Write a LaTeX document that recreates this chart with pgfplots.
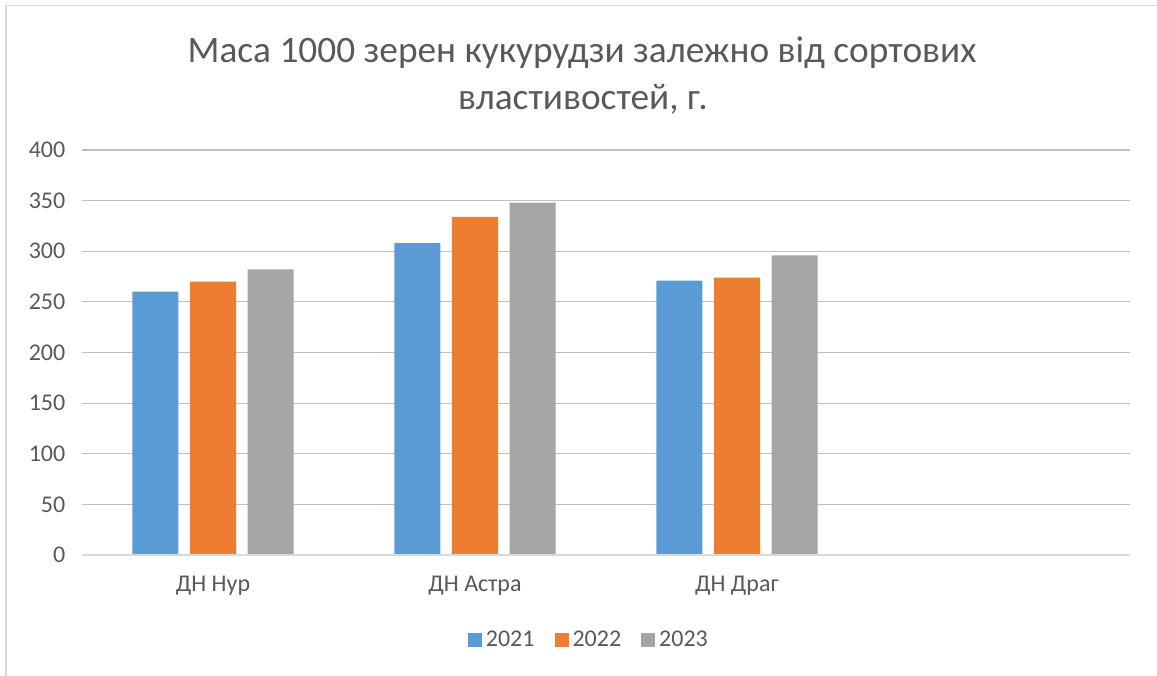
\documentclass[border=0pt]{standalone}
\usepackage{fontspec}
\setmainfont{Carlito}
\usepackage{pgfplots}
\pgfplotsset{compat=1.18}
\definecolor{c1}{HTML}{5B9BD5}
\definecolor{c2}{HTML}{ED7D31}
\definecolor{c3}{HTML}{A5A5A5}
\definecolor{grid}{HTML}{D9D9D9}
\definecolor{txt}{HTML}{595959}
\begin{document}
\begin{tikzpicture}
% bounding box: px -> pt (0.75), origin at axis lower-left (px 82,555)
\useasboundingbox (-61.5pt,-90pt) rectangle (806.25pt,416.25pt);
\draw[grid, line width=1.2pt] (-57pt,-95pt) -- (-57pt,412pt) -- (820pt,412pt);
\begin{axis}[
  scale only axis,
  width=786pt, height=303.75pt,
  xmin=-0.5, xmax=3.5, ymin=0, ymax=400,
  ytick={0,50,...,400},
  xtick={0,1,2},
  xticklabels={ДН Нур, ДН Астра, ДН Драг},
  major tick length=0pt,
  tick style={draw=none},
  axis line style={draw=none},
  xmajorgrids=false,
  ymajorgrids, grid style={grid, line width=0.9pt},
  ybar, bar width=0.1756,
  /pgf/number format/assume math mode=true,
  tick label style={font=\fontsize{18}{21}\selectfont, text=txt},
  yticklabel style={xshift=-9pt},
  xticklabel style={yshift=-12pt},
  legend style={at={(0.484,-0.21)}, anchor=center, draw=none,
    legend columns=3, font=\fontsize{18}{21}\selectfont, text=txt,
    /tikz/every even column/.append style={column sep=13pt},
    /tikz/every odd column/.append style={column sep=1pt}},
  legend image code/.code={\fill[#1] (0pt,-5.25pt) rectangle (10.5pt,5.25pt);},
]
\addplot[fill=c1, draw=none, bar shift=-0.2195] coordinates {(0,260) (1,308) (2,271)};
\addplot[fill=c2, draw=none, bar shift=0] coordinates {(0,270) (1,334) (2,274)};
\addplot[fill=c3, draw=none, bar shift=0.2195] coordinates {(0,282) (1,348) (2,296)};
\legend{2021,2022,2023}
\draw[grid, line width=0.9pt] (rel axis cs:0,0) -- (rel axis cs:1,0);
\end{axis}
\node[anchor=base, text=txt, font=\fontsize{28}{34}\selectfont] at (375pt,369pt) {Маса 1000 зерен кукурудзи залежно від сортових};
\node[anchor=base, text=txt, font=\fontsize{28}{34}\selectfont] at (375.75pt,333.75pt) {властивостей, г.};
\end{tikzpicture}
\end{document}
